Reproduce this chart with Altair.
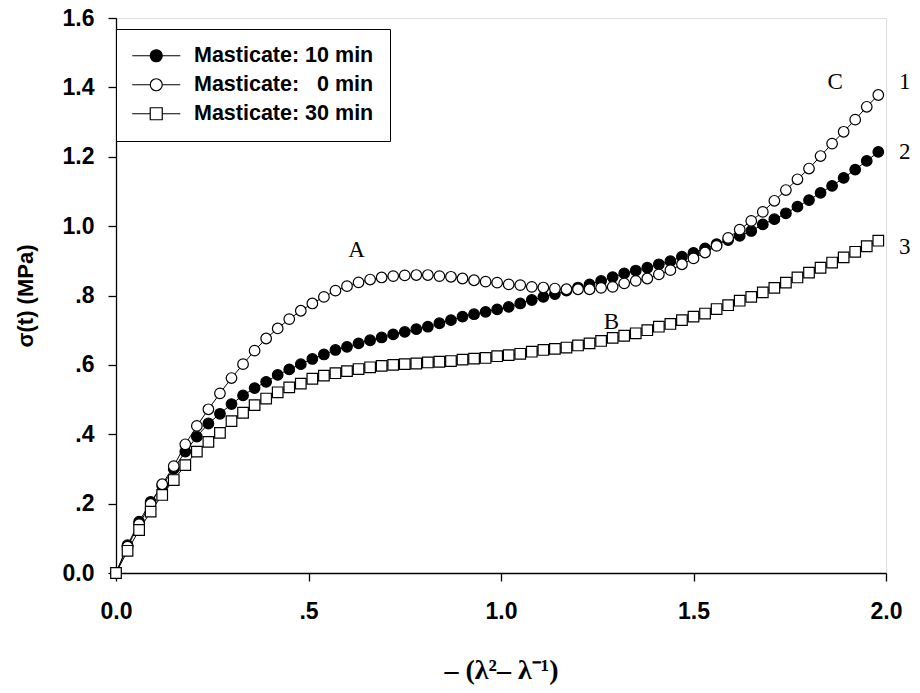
import altair as alt
import pandas as pd

# ---- data ----
X = [0.00, 0.03, 0.06, 0.09, 0.12, 0.15, 0.18, 0.21, 0.24, 0.27, 0.30, 0.33, 0.36, 0.39,
     0.42, 0.45, 0.48, 0.51, 0.54, 0.57, 0.60, 0.63, 0.66, 0.69, 0.72, 0.75, 0.78, 0.81,
     0.84, 0.87, 0.90, 0.93, 0.96, 0.99, 1.02, 1.05, 1.08, 1.11, 1.14, 1.17, 1.20, 1.23,
     1.26, 1.29, 1.32, 1.35, 1.38, 1.41, 1.44, 1.47, 1.50, 1.53, 1.56, 1.59, 1.62, 1.65,
     1.68, 1.71, 1.74, 1.77, 1.80, 1.83, 1.86, 1.89, 1.92, 1.95, 1.98]

M10 = [0.000, 0.080, 0.148, 0.205, 0.252, 0.300, 0.350, 0.393, 0.431, 0.459, 0.487, 0.512,
       0.533, 0.551, 0.571, 0.587, 0.602, 0.617, 0.630, 0.643, 0.652, 0.662, 0.671, 0.679,
       0.688, 0.695, 0.703, 0.710, 0.720, 0.729, 0.739, 0.746, 0.753, 0.760, 0.767, 0.777,
       0.787, 0.796, 0.804, 0.814, 0.823, 0.832, 0.842, 0.853, 0.864, 0.872, 0.880, 0.890,
       0.899, 0.912, 0.923, 0.936, 0.948, 0.960, 0.972, 0.986, 1.005, 1.020, 1.037, 1.056,
       1.075, 1.096, 1.116, 1.139, 1.163, 1.188, 1.214]

M0 = [0.000, 0.076, 0.141, 0.199, 0.256, 0.308, 0.371, 0.424, 0.472, 0.518, 0.562, 0.602,
      0.641, 0.676, 0.705, 0.732, 0.756, 0.777, 0.796, 0.814, 0.827, 0.838, 0.846, 0.852,
      0.856, 0.858, 0.859, 0.859, 0.856, 0.854, 0.849, 0.844, 0.840, 0.837, 0.832, 0.830,
      0.825, 0.823, 0.820, 0.818, 0.818, 0.818, 0.822, 0.825, 0.835, 0.842, 0.849, 0.861,
      0.873, 0.890, 0.907, 0.924, 0.943, 0.966, 0.990, 1.015, 1.041, 1.073, 1.104, 1.135,
      1.166, 1.202, 1.238, 1.272, 1.307, 1.344, 1.378]

M30 = [0.000, 0.064, 0.124, 0.177, 0.225, 0.268, 0.311, 0.350, 0.378, 0.404, 0.438, 0.462,
       0.484, 0.503, 0.521, 0.535, 0.546, 0.560, 0.569, 0.576, 0.582, 0.588, 0.593, 0.597,
       0.600, 0.602, 0.604, 0.607, 0.609, 0.611, 0.615, 0.618, 0.620, 0.625, 0.628, 0.632,
       0.638, 0.643, 0.646, 0.650, 0.656, 0.662, 0.669, 0.678, 0.684, 0.691, 0.700, 0.710,
       0.718, 0.729, 0.739, 0.748, 0.761, 0.772, 0.785, 0.796, 0.809, 0.822, 0.837, 0.852,
       0.866, 0.880, 0.895, 0.910, 0.926, 0.942, 0.958]

SERIES = ["Masticate: 10 min", "Masticate: \u00a0\u00a00 min", "Masticate: 30 min"]

NOTE_TEXT = ["A", "B", "C", "1", "2", "3"]
NOTE_X = [0.625, 1.287, 1.868, 2.049, 2.049, 2.049]
NOTE_Y = [0.931, 0.724, 1.416, 1.416, 1.213, 0.940]

X_TICKS = [0.0, 0.5, 1.0, 1.5, 2.0]
Y_TICKS = [0.0, 0.2, 0.4, 0.6, 0.8, 1.0, 1.2, 1.4, 1.6]

# ---- build table ----
rows = []
for name, vals in zip(SERIES, [M10, M0, M30]):
    for xv, yv in zip(X, vals):
        rows.append({"x": xv, "y": yv, "series": name})
df = pd.DataFrame(rows)
notes = pd.DataFrame({"t": NOTE_TEXT, "x": NOTE_X, "y": NOTE_Y})

xscale = alt.Scale(domain=[0, 2], nice=False, zero=False)
yscale = alt.Scale(domain=[0, 1.6], nice=False)

lab = "datum.value == 0 ? '0.0' : (datum.value < 1 ? '.' + format(datum.value * 10, '.0f') : format(datum.value, '.1f'))"

xaxis = alt.Axis(values=X_TICKS, labelExpr=lab, grid=False, domainColor="black",
                 domainWidth=1.3, tickColor="black", tickWidth=1.3, tickSize=8,
                 labelFont="Liberation Sans", labelFontWeight="bold", labelFontSize=23,
                 labelColor="black", labelPadding=19, labelFlush=False,
                 title="\u2013 (\u03bb\u00b2\u2013 \u03bb\u207b\u00b9)",
                 titleFont="Liberation Serif", titleFontWeight="bold", titleFontSize=28,
                 titleColor="black", titleX=385, titleY=105, titleBaseline="alphabetic",
                 titleAlign="center")
yaxis = alt.Axis(values=Y_TICKS, labelExpr=lab, grid=False, domainColor="black",
                 domainWidth=1.3, tickColor="black", tickWidth=1.3, tickSize=8,
                 labelFont="Liberation Sans", labelFontWeight="bold", labelFontSize=23,
                 labelColor="black", labelPadding=14, labelFlush=False,
                 title="\u03c3(t) (MPa)", titleFont="Liberation Sans",
                 titleFontWeight="bold", titleFontSize=22, titleColor="black",
                 titleX=-91, titleY=277.5, titleAngle=270, titleBaseline="middle",
                 titleAlign="center")

base = alt.Chart(df)

lines = base.mark_line(color="black", strokeWidth=1).encode(
    x=alt.X("x:Q", scale=xscale, axis=xaxis),
    y=alt.Y("y:Q", scale=yscale, axis=yaxis),
    detail="series:N",
)

points = base.mark_point(filled=True, stroke="black", strokeWidth=1.2, opacity=1).encode(
    x=alt.X("x:Q", scale=xscale),
    y=alt.Y("y:Q", scale=yscale),
    shape=alt.Shape("series:N", scale=alt.Scale(domain=SERIES, range=["circle", "circle", "square"]), legend=None),
    fill=alt.Fill("series:N", scale=alt.Scale(domain=SERIES, range=["black", "white", "white"]), legend=None),
    size=alt.Size("series:N", scale=alt.Scale(domain=SERIES, range=[112, 112, 118]), legend=None),
)

P_FILLED = "M-4,0H-1M1,0H4M-1,0A1,1 0 1,0 1,0A1,1 0 1,0 -1,0Z"
P_SQUARE = "M-4,0H-1M1,0H4M-1,-1H1V1H-1Z"

legend = alt.Legend(title=None, orient="none", legendX=0, legendY=11, padding=16,
                    strokeColor="black", fillColor="white",
                    symbolSize=144, symbolOffset=13.5, labelOffset=27, rowPadding=6,
                    symbolStrokeColor="black", symbolStrokeWidth=1.2, symbolOpacity=1,
                    labelFont="Liberation Sans", labelFontWeight="bold",
                    labelFontSize=21.5, labelColor="black", labelLimit=400,
                    cornerRadius=0)

dummy = base.mark_point(filled=True, opacity=0, size=144, strokeWidth=1.2).encode(
    x=alt.X("x:Q", scale=xscale),
    y=alt.Y("y:Q", scale=yscale),
    shape=alt.Shape("series:N", scale=alt.Scale(domain=SERIES, range=[P_FILLED, P_FILLED, P_SQUARE]), legend=legend),
    fill=alt.Fill("series:N", scale=alt.Scale(domain=SERIES, range=["black", "white", "white"]), legend=legend),
    stroke=alt.Stroke("series:N", scale=alt.Scale(domain=SERIES, range=["black", "black", "black"]), legend=legend),
)

texts = alt.Chart(notes).mark_text(font="Liberation Serif", fontSize=23, color="black",
                                   align="center", baseline="middle").encode(
    x=alt.X("x:Q", scale=xscale),
    y=alt.Y("y:Q", scale=yscale),
    text="t:N",
)

chart = alt.layer(lines, dummy, points, texts).resolve_scale(
    shape="independent", fill="independent", size="independent", stroke="independent"
).properties(
    width=770, height=555,
    autosize=alt.AutoSizeParams(type="none"),
    padding={"left": 108, "top": 10, "right": 26, "bottom": 112},
).configure_view(stroke="black", strokeWidth=1.3).configure_legend(
    strokeWidth=1.3
).configure(background="white")

chart.save("out.html", embed_options={"renderer": "svg", "actions": False})
